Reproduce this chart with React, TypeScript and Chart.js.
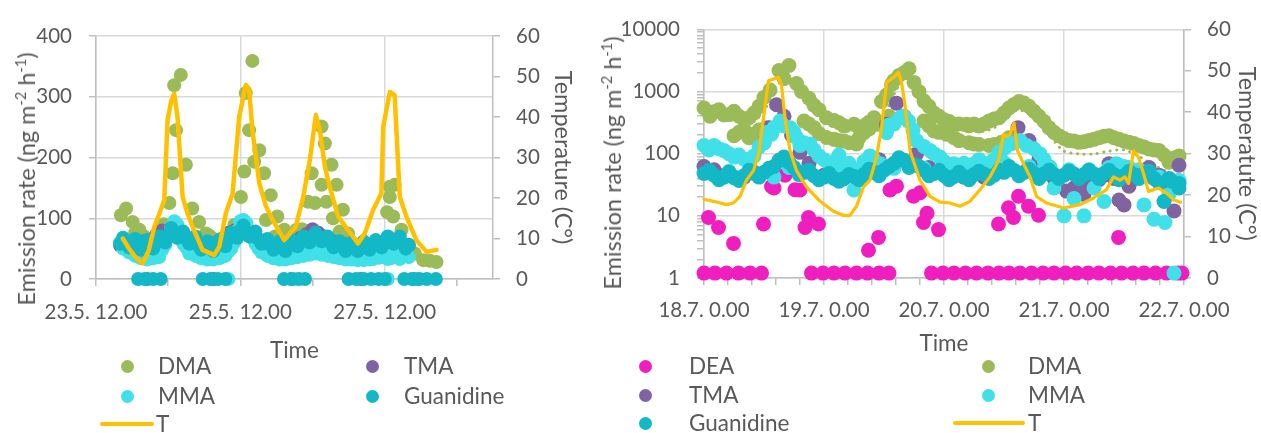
import React, { useEffect, useRef } from 'react';
import { Chart, registerables } from 'chart.js';

Chart.register(...registerables);

// ---------- Panel A: 23.5.–29.5., time in hours since 23.5. 12.00 ----------
const leftTickHours = [0, 24, 48, 72, 96, 120];
const leftLabelHours = [0, 48, 96];
const leftTickLabels = ['23.5. 12.00', '25.5. 12.00', '27.5. 12.00'];

const leftBandHours = [8, 10, 12, 14, 16, 18, 20, 22, 24, 26, 28, 30, 32, 34, 36, 38, 40, 42, 44, 46, 48, 50, 52, 54, 56, 58, 60, 62, 64, 66, 68, 70, 72, 74, 76, 78, 80, 82, 84, 86, 88, 90, 92, 94, 96, 98, 100, 102, 104];
const leftGuanidine = [58, 60, 57, 55, 55, 56, 60, 66, 72, 78, 72, 66, 62, 56, 53, 52, 55, 60, 66, 74, 80, 78, 72, 66, 60, 56, 54, 52, 56, 60, 62, 66, 70, 68, 64, 60, 56, 54, 53, 52, 54, 55, 56, 58, 62, 66, 64, 58, 56];
const leftMma = [60, 52, 45, 40, 38, 38, 40, 48, 70, 95, 75, 52, 45, 40, 38, 36, 38, 40, 45, 60, 95, 92, 70, 50, 44, 40, 38, 36, 38, 40, 42, 44, 46, 48, 45, 42, 40, 38, 36, 36, 35, 34, 34, 35, 36, 34, 36, 38, 36];
const leftTma = [55, 56, 58, 60, 62, 64, 72, 80, 76, 72, 70, 66, 60, 56, 54, 56, 60, 66, 76, 80, 78, 74, 68, 64, 58, 56, 55, 54, 58, 62, 68, 74, 82, 76, 70, 64, 60, 58, 56, 55, 55, 55, 56, 57, 58, 60, 62, 58, 56];

// second sampling line (odd hours)
const leftOddHours = [9, 11, 13, 15, 17, 19, 21, 23, 25, 27, 29, 31, 33, 35, 37, 39, 41, 43, 45, 47, 49, 51, 53, 55, 57, 59, 61, 63, 65, 67, 69, 71, 73, 75, 77, 79, 81, 83, 85, 87, 89, 91, 93, 95, 97, 99, 101, 103];
const leftGuanidineOdd = [68, 52, 66, 48, 64, 50, 70, 60, 84, 68, 78, 58, 70, 48, 62, 46, 64, 54, 76, 68, 88, 70, 78, 58, 66, 48, 62, 46, 64, 54, 70, 60, 76, 62, 70, 52, 62, 46, 60, 46, 62, 48, 64, 52, 70, 58, 70, 50];
const leftMmaOdd = [50, 44, 38, 34, 32, 34, 36, 56, 85, 90, 58, 42, 38, 34, 32, 32, 34, 38, 50, 80, 97, 80, 58, 44, 38, 34, 32, 32, 34, 36, 38, 40, 42, 40, 38, 36, 34, 32, 32, 31, 31, 32, 40, 38, 33, 40, 33, 42];

const leftGuanidineZeroHours = [14, 16.5, 19, 21.5, 35.5, 38, 40.5, 43, 62.5, 65, 67.5, 69.5, 84, 86.5, 89, 91.5, 94, 96, 102.5, 105, 107.5, 110, 113];
const leftMmaZeroHours = [16, 44, 66, 97, 107];
const leftTmaZeroHours = [17, 39, 65, 88, 106];

const leftDmaHours = [8.3, 10, 12.2, 14.4, 16, 18, 20, 21, 22.5, 24.4, 25.5, 26, 26.6, 28.2, 29.9, 32, 34.3, 36.5, 38.5, 40.5, 43, 46, 48.2, 49.3, 49.8, 50.9, 52, 52.6, 54.3, 55.9, 56.5, 58.1, 60.3, 62.6, 64.5, 66.7, 68.5, 70.5, 71.7, 72.8, 75, 75, 76.1, 76.6, 78.3, 78.8, 80, 81, 82.1, 83.8, 86, 88, 90, 92, 94, 95.5, 96.8, 97.7, 97.7, 98.8, 99.3, 101.6, 103.2, 106, 108.8, 111, 113.2, 13, 17, 37.5, 41.5, 59.5, 63.5, 84.5, 87];
const leftDmaValues = [105, 116, 94, 81, 70, 66, 72, 75, 90, 125, 174, 319, 245, 336, 188, 116, 94, 75, 68, 62, 70, 89, 135, 177, 306, 245, 359, 193, 212, 174, 97, 138, 103, 81, 72, 81, 82, 127, 174, 125, 251, 155, 223, 127, 188, 100, 155, 78, 114, 75, 55, 40, 35, 33, 38, 60, 110, 135, 152, 103, 155, 81, 53, 42, 31, 30, 28, 76, 66, 72, 66, 70, 66, 62, 48];

const leftTHours = [8.9, 11, 13, 15.5, 17.5, 19.4, 21, 22.7, 23.8, 25, 26, 27.1, 28.8, 30.5, 32.1, 35.4, 39.3, 41, 43.2, 45.4, 47.6, 49.8, 50.9, 52, 54.3, 56.5, 58.7, 62.6, 64.5, 66.4, 68.9, 71.1, 73.1, 74.4, 76.1, 77.7, 80.5, 83.8, 87.1, 89.4, 92.1, 94.9, 95.5, 97.7, 99.3, 101, 103.2, 106.5, 109.9, 113.2];
const leftTValues = [10, 7.5, 5.5, 3.9, 7, 12.9, 16, 19.5, 39.3, 44, 45.8, 40, 20.3, 16, 12.9, 7.2, 5.9, 8, 16.3, 21, 40, 47.9, 47, 36.8, 23.6, 18, 14.6, 9.6, 11.3, 12.9, 20.3, 29.4, 40.5, 36.8, 27.7, 22.8, 15.4, 12.1, 8.8, 11.3, 17, 21.2, 37.6, 46.2, 45.4, 20.3, 15.4, 9.6, 6.7, 7.2];

// ---------- Panel B: 18.7.–22.7., time in hours since 18.7. 0.00 ----------
const rightLabelHours = [0, 24, 48, 72, 96];
const rightTickLabels = ['18.7. 0.00', '19.7. 0.00', '20.7. 0.00', '21.7. 0.00', '22.7. 0.00'];
const rightMinorStep = 4.8;
const rightLogMajors = [1, 10, 100, 1000, 10000];
const rightLogLabels = ['1', '10', '100', '1000', '10000'];

const rightDeaZeroHours = [0, 2.2, 4.5, 6.9, 9.2, 11.5, 21.5, 23.8, 26, 28.2, 30.5, 32.7, 35, 37, 45.5, 47.8, 50, 52.3, 54.5, 56.8, 59, 61, 63.2, 65.5, 67.8, 70, 72.3, 74.5, 76.8, 79, 81.3, 83.5, 85.8, 88, 90.3, 92.5, 94.8, 95.6];
const rightDeaHours = [0.9, 2.9, 5.9, 11.9, 13.5, 14, 16.2, 18.2, 19.2, 20.2, 20.9, 22.9, 32.9, 34.9, 37.2, 38.5, 41.9, 43.2, 43.9, 44.6, 46.9, 58.9, 60.9, 61.9, 62.9, 64.9, 66.9, 82.9];
const rightDeaValues = [9.4, 6.5, 3.6, 7.4, 29.6, 28, 45, 26.3, 26, 6.5, 9.4, 7.4, 2.8, 4.5, 26, 30, 20.6, 23.5, 7.8, 11, 6, 7.4, 13.5, 9.4, 20.6, 14.3, 10.2, 4.5];

const rightDmaHours = [0, 1.2, 3, 5, 7, 9, 11, 13.2, 15, 16, 17, 18.5, 21, 23, 24.5, 27, 30, 32.5, 34, 35.5, 36.5, 39, 41, 43, 45, 47, 50, 52.5, 55, 57, 59, 61, 63, 65, 67, 69, 71, 73, 75, 77, 79, 81, 83, 85, 87, 89, 91, 93, 95,
  2, 4, 6, 8, 10, 12, 19.5, 22, 26, 28, 31, 33, 37.5, 38, 40, 42, 44, 46, 48, 49, 51, 53, 54, 56, 58, 60, 62, 64, 66, 68, 70, 72, 74, 76, 78, 80, 82, 84, 86, 88, 90, 92, 94];
const rightDmaValues = [541, 400, 509, 425, 400, 377, 576, 1052, 2177, 1610, 2611, 1342, 778, 509, 377, 314, 296, 296, 377, 690, 878, 1815, 2314, 993, 576, 400, 296, 296, 279, 334, 377, 541, 690, 576, 400, 262, 194, 162, 152, 162, 180, 194, 170, 152, 135, 119, 112, 73, 92,
  470, 420, 480, 350, 450, 800, 1000, 600, 340, 280, 270, 320, 1300, 1500, 2000, 1400, 700, 450, 350, 330, 300, 280, 300, 300, 360, 450, 620, 650, 480, 330, 220, 175, 160, 155, 170, 190, 180, 160, 145, 128, 115, 95, 85];
const rightDmaLowHours = [6, 7, 8, 9, 10, 11, 12.5, 20, 21, 22, 23, 24.5, 26, 27, 28, 29, 30.5, 31, 32, 33, 34.5, 37, 44, 45, 46, 47, 48.5, 50, 51, 53, 54, 55, 57, 58, 59.5, 61];
const rightDmaLowValues = [194, 220, 246, 180, 205, 240, 262, 334, 300, 262, 210, 182, 170, 162, 160, 150, 143, 180, 218, 250, 296, 400, 334, 280, 232, 220, 205, 180, 162, 150, 143, 140, 135, 140, 152, 180];
const rightDmaTrendHours = [10, 12, 13, 14, 15.5, 17, 19, 21, 23, 25, 27, 29, 31, 33, 35, 36, 37, 38, 39.5, 41, 43, 45, 47, 50, 53, 56, 58, 60, 62, 64, 66, 68, 70, 72, 75, 78, 81, 84, 87, 90, 93, 95];
const rightDmaTrendValues = [330, 480, 700, 1000, 1500, 1600, 1200, 700, 450, 330, 260, 230, 230, 250, 300, 420, 600, 900, 1400, 1600, 1000, 550, 360, 260, 230, 230, 260, 340, 480, 480, 370, 250, 160, 110, 99, 99, 110, 115, 90, 65, 50, 45];

const rightTmaHours = [0, 2, 4, 6, 8, 10, 12, 13, 14.5, 16, 17.5, 19.2, 21, 24, 28, 32, 35, 36.5, 38.5, 40, 42.5, 45, 48, 52, 56, 60, 62, 62.8, 65, 67, 70, 72.5, 75, 78, 81, 84, 86, 88, 90, 93, 94, 95,
  74, 76, 77, 79, 80, 82, 83, 85, 87, 89, 91, 92];
const rightTmaValues = [62, 55, 45, 42, 42, 50, 150, 262, 612, 400, 200, 105, 70, 45, 40, 45, 80, 296, 649, 400, 99, 60, 45, 42, 42, 60, 150, 262, 162, 80, 40, 25, 25, 35, 69, 15, 40, 45, 40, 33.5, 12, 65,
  28, 22, 30, 38, 45, 40, 18, 30, 50, 60, 45, 35];

const rightMmaHours = [0, 2, 4, 6, 8, 10, 11, 12.5, 13.5, 15.2, 17.2, 18.5, 19.2, 21.2, 23, 25, 28, 30, 31, 32.5, 33.2, 35.2, 36.5, 39.2, 40.9, 42.5, 45.2, 47.2, 50, 54, 56.5, 59, 61.2, 63.2, 64.5, 67.2, 69.2, 70, 72, 74, 76, 78, 80, 82.5, 85, 88, 90, 92.2, 94, 95,
  1, 3, 5, 7, 9, 12, 14, 16, 18, 20, 22, 24, 26, 27, 29, 32, 34, 37, 38, 40, 41.8, 44, 46, 48, 52, 55, 58, 60, 62, 66, 68];
const rightMmaValues = [135, 135, 112, 88, 82, 92, 128, 218, 205, 334, 262, 182, 135, 143, 92, 69, 61, 26, 55, 61, 92, 69, 218, 377, 334, 162, 112, 88, 69, 69, 69, 105, 143, 162, 135, 99, 61, 28, 10, 19, 10, 28, 17, 69, 60, 15, 8.8, 7.8, 1.2, 37,
  115, 120, 100, 95, 78, 150, 260, 280, 220, 150, 115, 80, 75, 95, 70, 75, 80, 290, 300, 400, 240, 130, 100, 75, 70, 80, 80, 120, 150, 120, 80];
const rightMmaLowHours = [5, 9, 14, 17, 21, 26, 34, 38, 44, 49, 52, 57, 60, 65, 68, 73, 77, 81, 84, 87, 91, 93];
const rightMmaLowValues = [52, 50, 42, 60, 52, 55, 60, 58, 58, 62, 60, 62, 72, 62, 58, 55, 55, 60, 62, 55, 42, 22];

const rightGuanidineHours = [0, 2, 4, 6, 8, 10, 12, 14, 15, 16, 18, 20, 22, 24, 26, 28, 30, 32, 34, 36, 38, 40, 42, 44, 46, 48, 50, 52, 54, 56, 58, 60, 62, 64, 66, 68, 70, 72, 74, 76, 78, 80, 82, 84, 86, 88, 90, 92, 93.5, 95];
const rightGuanidineValues = [48, 45, 42, 41, 44, 48, 50, 62, 78, 88, 60, 50, 44, 42, 40, 40, 43, 46, 50, 54, 70, 78, 66, 54, 48, 45, 43, 43, 46, 47, 45, 50, 54, 50, 48, 47, 46, 45, 47, 46, 47, 48, 46, 44, 46, 48, 40, 17, 36, 33];
const rightGuanidineOddHours = [1, 3, 5, 7, 9, 11, 13, 17, 19, 21, 23, 25, 27, 29, 31, 33, 35, 37, 39, 41, 43, 45, 47, 49, 51, 53, 55, 57, 59, 61, 63, 65, 67, 69, 71, 73, 75, 77, 79, 81, 83, 85, 87, 89, 91, 93, 95];
const rightGuanidineOddValues = [54, 38, 50, 37, 54, 42, 58, 72, 46, 54, 38, 48, 36, 46, 38, 56, 44, 62, 86, 60, 62, 44, 54, 38, 50, 38, 52, 40, 54, 62, 44, 56, 40, 54, 40, 52, 40, 54, 40, 54, 38, 52, 40, 52, 34, 40, 28];

const rightTHours = [0, 1.9, 4.5, 5.9, 7.2, 8.5, 9.9, 10.9, 11.9, 12.9, 14.9, 15.5, 16.2, 17.2, 18.5, 20.5, 23.2, 25.9, 27.9, 29.2, 30.5, 31.9, 33.2, 34.5, 35.5, 36.5, 37.9, 38.9, 39.5, 40.2, 41.2, 43.2, 45.2, 47.2, 49.2, 51.2, 53.2, 55.2, 57.2, 58.9, 59.9, 60.5, 61.2, 62, 62.7, 63.9, 65.2, 66.5, 68.5, 71.9, 75.2, 77.9, 80.5, 81.9, 83.2, 84.2, 84.9, 85.9, 86.9, 87.9, 88.9, 90.9, 92.5, 93.9, 95.3];
const rightTValues = [19, 18.5, 17.7, 18.1, 19.7, 23.6, 25.9, 29.8, 38.6, 47.6, 48.4, 46.5, 38.6, 30.7, 25.9, 22, 18.5, 16.1, 15.1, 15.1, 17.3, 22, 23.6, 29.1, 36.2, 47.2, 48.4, 49.6, 47.2, 41.7, 30.7, 23.6, 19.7, 18.3, 18.1, 17.3, 18.5, 21.3, 24.4, 28.3, 34.6, 34.2, 34.6, 37.4, 30.7, 27.6, 24.4, 19.7, 18.1, 16.9, 17.7, 19.3, 21.3, 24.4, 23.6, 24.4, 22.8, 30.7, 29.1, 25.2, 20.9, 21.7, 20.5, 18.9, 18.3];

// ---------- styling ----------
const FONT = "Lato, 'Liberation Sans', sans-serif";
const TEXT = '#595959';
const GRID = '#D9D9D9';
const AXIS = '#BFBFBF';
const C_DMA = '#9BBB59';
const C_TMA = '#8064A2';
const C_MMA = '#40E0E8';
const C_GUA = '#13B8C7';
const C_DEA = '#F01EBE';
const C_T = '#FFC000';
const TICK_SIZE = 20.5;
const LABEL_SIZE = 22.5;
const AXIS_TITLE_SIZE = 23.5;

const pts = (xs: number[], ys: number[]) => xs.map((x, i) => ({ x, y: ys[i] }));
const zeros = (xs: number[], level: number) => xs.map((x) => ({ x, y: level }));

const dots = (label: string, color: string, data: any[], order: number, radius: number) => ({
  label,
  data,
  order,
  yAxisID: 'y',
  backgroundColor: color,
  borderColor: color,
  pointBackgroundColor: color,
  pointBorderWidth: 0,
  pointRadius: radius,
  pointHoverRadius: radius,
  showLine: false,
  clip: false as any,
});

const tickFont = { family: FONT, size: TICK_SIZE };
const labelFont = { family: FONT, size: LABEL_SIZE };
const axisTitleFont = { family: FONT, size: AXIS_TITLE_SIZE };

function leftConfig(): any {
  const r = 7;
  return {
    type: 'scatter',
    data: {
      datasets: [
        {
          label: 'T',
          data: pts(leftTHours, leftTValues),
          yAxisID: 'yT',
          order: 0,
          showLine: true,
          borderColor: C_T,
          backgroundColor: C_T,
          borderWidth: 4.5,
          pointRadius: 0,
          tension: 0,
          borderJoinStyle: 'round',
          borderCapStyle: 'round',
          clip: false,
        },
        dots('Guanidine', C_GUA, [...pts(leftBandHours, leftGuanidine), ...pts(leftOddHours, leftGuanidineOdd), ...zeros(leftGuanidineZeroHours, 0)], 1, r),
        dots('MMA', C_MMA, [...pts(leftBandHours, leftMma), ...pts(leftOddHours, leftMmaOdd), ...zeros(leftMmaZeroHours, 0)], 2, r),
        dots('TMA', C_TMA, [...pts(leftBandHours, leftTma), ...zeros(leftTmaZeroHours, 0)], 3, r),
        dots('DMA', C_DMA, pts(leftDmaHours, leftDmaValues), 4, r),
      ],
    },
    options: {
      animation: false,
      responsive: false,
      maintainAspectRatio: false,
      layout: { padding: { top: 36, left: 0, right: 0, bottom: 0 } },
      plugins: { legend: { display: false }, tooltip: { enabled: false } },
      scales: {
        x: {
          type: 'linear',
          position: 'bottom',
          min: 0,
          max: 132,
          afterBuildTicks: (s: any) => {
            s.ticks = leftTickHours.map((v) => ({ value: v }));
          },
          afterFit: (s: any) => {
            s.height = 85;
          },
          ticks: {
            autoSkip: false,
            maxRotation: 0,
            minRotation: 0,
            padding: 14,
            color: TEXT,
            font: tickFont,
            callback: (v: any) => {
              const i = leftLabelHours.indexOf(Number(v));
              return i >= 0 ? leftTickLabels[i] : '';
            },
          },
          grid: {
            color: (c: any) => (c.tick && leftLabelHours.includes(c.tick.value) ? GRID : 'rgba(0,0,0,0)'),
            lineWidth: 1.5,
            tickColor: AXIS,
            tickLength: 7,
          },
          border: { color: AXIS, width: 1.5 },
          title: { display: true, text: 'Time', color: TEXT, font: labelFont, padding: { top: 0, bottom: 0 } },
        },
        y: {
          type: 'linear',
          position: 'left',
          min: 0,
          max: 400,
          afterFit: (s: any) => {
            s.width = 96;
          },
          ticks: { stepSize: 100, padding: 17, color: TEXT, font: tickFont },
          grid: { color: GRID, lineWidth: 1.5, tickColor: AXIS, tickLength: 7 },
          border: { color: AXIS, width: 1.5 },
          title: { display: false },
        },
        yT: {
          type: 'linear',
          position: 'right',
          min: 0,
          max: 60,
          afterFit: (s: any) => {
            s.width = 87;
          },
          ticks: { stepSize: 10, padding: 16, color: TEXT, font: tickFont },
          grid: { drawOnChartArea: false, lineWidth: 1.5, color: AXIS, tickColor: AXIS, tickLength: 7 },
          border: { color: AXIS, width: 1.5 },
          title: {
            display: true,
            text: 'Temperature (C°)',
            color: TEXT,
            font: axisTitleFont,
            padding: { top: 3, bottom: 0 },
          },
        },
      },
    },
  };
}

function rightTicks() {
  const out: number[] = [];
  for (let d = 0; d < 4; d++) {
    for (let k = 0; k < 5; k++) out.push(rightLabelHours[d] + k * rightMinorStep);
  }
  out.push(rightLabelHours[4]);
  return out;
}

function logTicks() {
  const out: number[] = [];
  rightLogMajors.forEach((m, i) => {
    out.push(m);
    if (i < rightLogMajors.length - 1) for (let k = 2; k <= 9; k++) out.push(m * k);
  });
  return out;
}

function rightConfig(): any {
  const r = 7.5;
  return {
    type: 'scatter',
    data: {
      datasets: [
        {
          label: 'T',
          data: pts(rightTHours, rightTValues),
          yAxisID: 'yT',
          order: 0,
          showLine: true,
          borderColor: C_T,
          backgroundColor: C_T,
          borderWidth: 3.2,
          pointRadius: 0,
          tension: 0,
          borderJoinStyle: 'round',
          borderCapStyle: 'round',
          clip: false,
        },
        dots('Guanidine', C_GUA, [...pts(rightGuanidineHours, rightGuanidineValues), ...pts(rightGuanidineOddHours, rightGuanidineOddValues)], 1, r),
        dots('MMA', C_MMA, [...pts(rightMmaHours, rightMmaValues), ...pts(rightMmaLowHours, rightMmaLowValues)], 2, r),
        dots('TMA', C_TMA, pts(rightTmaHours, rightTmaValues), 3, r),
        {
          label: 'DMA moving average',
          data: pts(rightDmaTrendHours, rightDmaTrendValues),
          yAxisID: 'y',
          order: 3.5,
          showLine: true,
          borderColor: C_DMA,
          backgroundColor: C_DMA,
          borderWidth: 3,
          borderDash: [0.1, 6.5],
          borderCapStyle: 'round',
          pointRadius: 0,
          tension: 0.3,
          clip: false,
        },
        dots('DMA', C_DMA, [...pts(rightDmaHours, rightDmaValues), ...pts(rightDmaLowHours, rightDmaLowValues)], 4, r),
        dots('DEA', C_DEA, [...pts(rightDeaHours, rightDeaValues), ...zeros(rightDeaZeroHours, 1.2)], 5, r),
      ],
    },
    options: {
      animation: false,
      responsive: false,
      maintainAspectRatio: false,
      layout: { padding: { top: 24, left: 0, right: 0, bottom: 0 } },
      plugins: { legend: { display: false }, tooltip: { enabled: false } },
      scales: {
        x: {
          type: 'linear',
          position: 'bottom',
          min: 0,
          max: 96,
          afterBuildTicks: (s: any) => {
            s.ticks = rightTicks().map((v) => ({ value: v }));
          },
          afterFit: (s: any) => {
            s.height = 79;
          },
          ticks: {
            autoSkip: false,
            maxRotation: 0,
            minRotation: 0,
            padding: 13,
            color: TEXT,
            font: tickFont,
            callback: (v: any) => {
              const i = rightLabelHours.indexOf(Number(v));
              return i >= 0 ? rightTickLabels[i] : '';
            },
          },
          grid: {
            color: (c: any) => (c.tick && rightLabelHours.includes(c.tick.value) ? GRID : 'rgba(0,0,0,0)'),
            lineWidth: 1.5,
            tickColor: AXIS,
            tickLength: 7,
          },
          border: { color: AXIS, width: 1.5 },
          title: { display: true, text: 'Time', color: TEXT, font: labelFont, padding: { top: 0, bottom: 0 } },
        },
        y: {
          type: 'logarithmic',
          position: 'left',
          min: 1,
          max: 10000,
          afterBuildTicks: (s: any) => {
            s.ticks = logTicks().map((v) => ({ value: v, major: rightLogMajors.includes(v) }));
          },
          afterFit: (s: any) => {
            s.width = 114;
          },
          ticks: {
            autoSkip: false,
            padding: 17,
            color: TEXT,
            font: tickFont,
            callback: (v: any) => {
              const i = rightLogMajors.indexOf(Number(v));
              return i >= 0 ? rightLogLabels[i] : '';
            },
          },
          grid: {
            color: (c: any) => (c.tick && rightLogMajors.includes(c.tick.value) ? GRID : 'rgba(0,0,0,0)'),
            lineWidth: 1.5,
            tickColor: AXIS,
            tickLength: 7,
          },
          border: { color: AXIS, width: 1.5 },
          title: { display: false },
        },
        yT: {
          type: 'linear',
          position: 'right',
          min: 0,
          max: 60,
          afterFit: (s: any) => {
            s.width = 77;
          },
          ticks: { stepSize: 10, padding: 16, color: TEXT, font: tickFont },
          grid: { drawOnChartArea: false, lineWidth: 1.5, color: AXIS, tickColor: AXIS, tickLength: 7 },
          border: { color: AXIS, width: 1.5 },
          title: {
            display: true,
            text: 'Temperatute (C°)',
            color: TEXT,
            font: axisTitleFont,
            padding: { top: 0, bottom: 0 },
          },
        },
      },
    },
  };
}

type LegendEntry = { label: string; color: string; line?: boolean };
type LegendSlot = { markX: number; markX2?: number; textX: number; y: number; lineWidth?: number };

const leftLegendEntries: LegendEntry[] = [
  { label: 'DMA', color: C_DMA },
  { label: 'TMA', color: C_TMA },
  { label: 'MMA', color: C_MMA },
  { label: 'Guanidine', color: C_GUA },
  { label: 'T', color: C_T, line: true },
];
const leftLegendSlots: LegendSlot[] = [
  { markX: 127, textX: 158, y: 366 },
  { markX: 372, textX: 404, y: 366 },
  { markX: 127, textX: 158, y: 396 },
  { markX: 372, textX: 404, y: 396 },
  { markX: 100, markX2: 154, textX: 156, y: 424, lineWidth: 4.5 },
];

const rightLegendEntries: LegendEntry[] = [
  { label: 'DEA', color: C_DEA },
  { label: 'DMA', color: C_DMA },
  { label: 'TMA', color: C_TMA },
  { label: 'MMA', color: C_MMA },
  { label: 'Guanidine', color: C_GUA },
  { label: 'T', color: C_T, line: true },
];
const rightLegendSlots: LegendSlot[] = [
  { markX: 645, textX: 689, y: 366 },
  { markX: 988, textX: 1028, y: 366 },
  { markX: 645, textX: 689, y: 395 },
  { markX: 988, textX: 1028, y: 395 },
  { markX: 645, textX: 689, y: 423 },
  { markX: 953, markX2: 1025, textX: 1028, y: 423, lineWidth: 3.5 },
];

function Legend({ entries, slots }: { entries: LegendEntry[]; slots: LegendSlot[] }) {
  return (
    <>
      {entries.map((e, i) => {
        const s = slots[i];
        return (
          <React.Fragment key={e.label + i}>
            {e.line ? (
              <div
                style={{
                  position: 'absolute',
                  left: s.markX,
                  top: s.y - (s.lineWidth || 4) / 2,
                  width: (s.markX2 || s.markX) - s.markX,
                  height: s.lineWidth || 4,
                  background: e.color,
                  borderRadius: 2,
                }}
              />
            ) : (
              <div
                style={{
                  position: 'absolute',
                  left: s.markX - 6.5,
                  top: s.y - 6.5,
                  width: 13,
                  height: 13,
                  borderRadius: '50%',
                  background: e.color,
                }}
              />
            )}
            <span
              style={{
                position: 'absolute',
                left: s.textX,
                top: s.y - 14,
                lineHeight: '28px',
                fontSize: LABEL_SIZE,
                fontFamily: FONT,
                color: TEXT,
                whiteSpace: 'nowrap',
              }}
            >
              {e.label}
            </span>
          </React.Fragment>
        );
      })}
    </>
  );
}

// Vertical emission-rate axis title with real superscripts
function EmissionTitle({ cx, cy }: { cx: number; cy: number }) {
  const sup: React.CSSProperties = { fontSize: '0.62em', verticalAlign: '0.62em', lineHeight: 0 };
  return (
    <div
      style={{
        position: 'absolute',
        left: cx,
        top: cy,
        transform: 'translate(-50%, -50%) rotate(-90deg)',
        whiteSpace: 'nowrap',
        fontFamily: FONT,
        fontSize: AXIS_TITLE_SIZE,
        lineHeight: '28px',
        color: TEXT,
      }}
    >
      Emission rate (ng m<span style={sup}>-2</span> h<span style={sup}>-1</span>)
    </div>
  );
}

function ChartCanvas({ build, left, width, height }: { build: () => any; left: number; width: number; height: number }) {
  const ref = useRef<HTMLCanvasElement>(null);
  useEffect(() => {
    if (!ref.current) return;
    const chart = new Chart(ref.current, build());
    return () => chart.destroy();
  }, [build]);
  return (
    <canvas
      ref={ref}
      width={width}
      height={height}
      style={{ position: 'absolute', left, top: 0, width, height }}
    />
  );
}

export default function App() {
  return (
    <div
      style={{
        position: 'absolute',
        left: 0,
        top: 0,
        width: 1261,
        height: 433,
        overflow: 'hidden',
        background: '#ffffff',
      }}
    >
      <ChartCanvas build={leftConfig} left={0} width={580} height={364} />
      <ChartCanvas build={rightConfig} left={590} width={671} height={357} />
      <EmissionTitle cx={26} cy={179} />
      <EmissionTitle cx={612} cy={163} />
      <Legend entries={leftLegendEntries} slots={leftLegendSlots} />
      <Legend entries={rightLegendEntries} slots={rightLegendSlots} />
    </div>
  );
}
